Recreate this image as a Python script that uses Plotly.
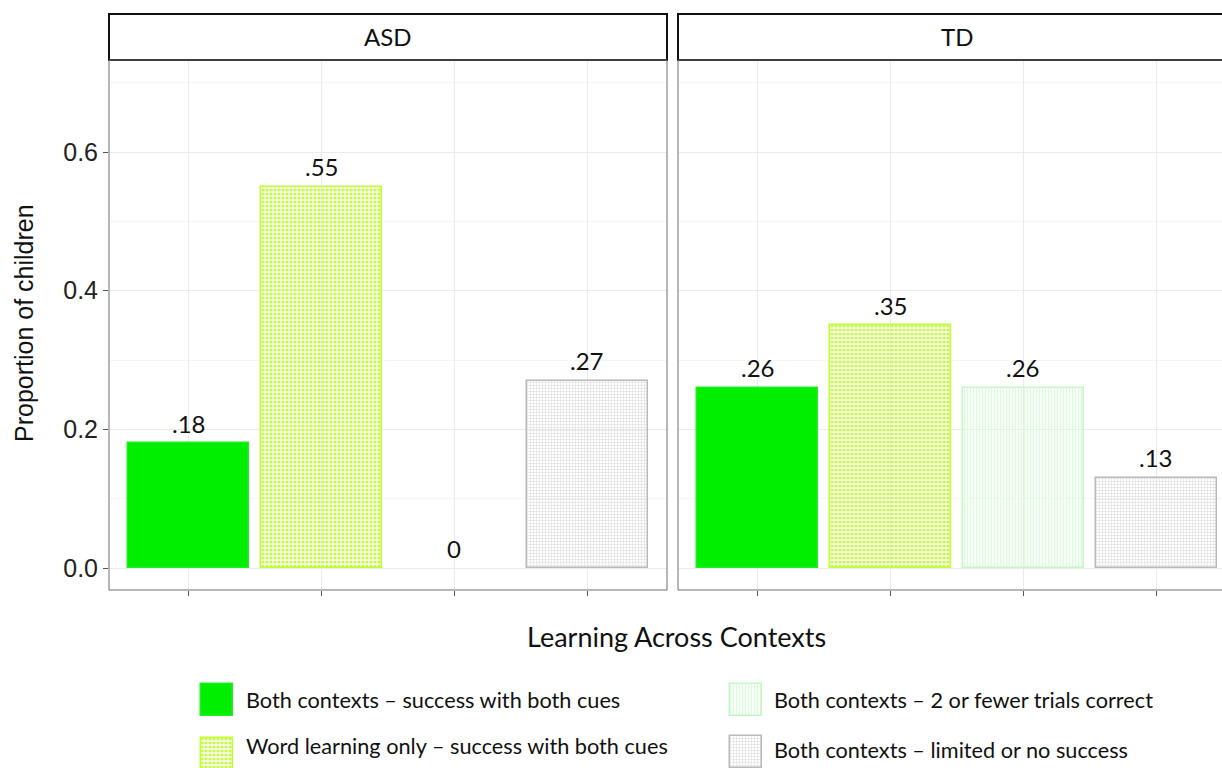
import plotly.graph_objects as go

# ---- data ----
categories = [
    "Both contexts – success with both cues",
    "Word learning only – success with both cues",
    "Both contexts – 2 or fewer trials correct",
    "Both contexts – limited or no success",
]
groups = ["ASD", "TD"]
asd_values = [0.18, 0.55, 0.0, 0.27]
td_values = [0.26, 0.35, 0.26, 0.13]
y_tick_values = [0.0, 0.2, 0.4, 0.6]
y_tick_labels = ["0.0", "0.2", "0.4", "0.6"]
y_minor_values = [0.1, 0.3, 0.5, 0.7]

# ---- styling per category ----
solid_colors = ["#00EE00", "#C4FF3C", "#D8FFD8", "#E0E0E0"]
pattern_shapes = ["", ".", "|", "+"]
pattern_fg = ["#00EE00", "#C2FC45", "#C3F7C3", "#B3B3B3"]
pattern_bg = ["#00EE00", "#FFFFFF", "#F2FFF2", "#DEDEDE"]
pattern_size = [4, 4, 3, 3]
pattern_solidity = [0.5, 0.5, 0.45, 0.4]
edge_colors = ["#20EE20", "#C0FF30", "#C6F5C6", "#BABABA"]

W, H = 1222, 768
PX_PER_UNIT = 558 / 4.2          # horizontal scale of a facet
LABEL_FONT = "Lato, 'Open Sans', sans-serif"
AXIS_FONT = "'Liberation Sans', Arial, sans-serif"

x_pos = list(range(1, len(categories) + 1))


def bar_marker(values=None):
    widths = 1.5 if values is None else [0 if v == 0 else 1.5 for v in values]
    return dict(
        color=solid_colors,
        line=dict(color=edge_colors, width=widths),
        pattern=dict(
            shape=pattern_shapes,
            fgcolor=pattern_fg,
            bgcolor=pattern_bg,
            size=pattern_size,
            solidity=pattern_solidity,
            fillmode="replace",
        ),
    )


def value_label(v):
    return "0" if v == 0 else f"{v:.2f}".lstrip("0")


fig = go.Figure()

for values, xa, ya in [(asd_values, "x", "y"), (td_values, "x2", "y2")]:
    fig.add_trace(go.Bar(
        x=x_pos, y=values, xaxis=xa, yaxis=ya, width=0.91,
        marker=bar_marker(values), showlegend=False, hoverinfo="skip",
    ))

annotations = []
for values, xa, ya in [(asd_values, "x", "y"), (td_values, "x2", "y2")]:
    for xi, v in zip(x_pos, values):
        annotations.append(dict(
            x=xi, y=v, xref=xa, yref=ya, text=value_label(v),
            showarrow=False, yanchor="middle", yshift=20,
            font=dict(family=LABEL_FONT, size=24, color="#111"),
        ))

# ---- legend keys, drawn on a helper axis laid over the bottom strip ----
key_x = [217, 217, 746, 746]
key_top = [684, 738, 684, 736]
key_size = 32
fig.add_trace(go.Bar(
    x=key_x, y=[key_size] * 4, base=key_top, width=key_size,
    xaxis="x3", yaxis="y3", marker=bar_marker(),
    showlegend=False, hoverinfo="skip",
))
key_text_x = [244, 244, 772, 772]
key_text_y = [700, 746, 700, 750]
for cat, tx, ty in zip(categories, key_text_x, key_text_y):
    annotations.append(dict(
        x=tx, y=ty, xref="x3", yref="y3", text=cat, showarrow=False,
        xanchor="left", yanchor="middle",
        font=dict(family=LABEL_FONT, size=21.7, color="#111"),
    ))

# ---- facet strips ----
strip_top, strip_bottom = 1 - 14 / H, 1 - 60 / H
td_extent = (1237 - 678) / (W - 678)
shapes = []
for xa, x1 in [("x", 1.0), ("x2", td_extent)]:
    shapes.append(dict(
        type="rect", xref=f"{xa} domain", yref="paper",
        x0=0, x1=x1, y0=strip_bottom, y1=strip_top,
        line=dict(color="#111", width=2), fillcolor="white", layer="above",
    ))
    shapes.append(dict(
        type="rect", xref=f"{xa} domain", yref=f"{'y' if xa == 'x' else 'y2'} domain",
        x0=0, x1=x1, y0=0, y1=1,
        line=dict(color="#6E6E6E", width=1), fillcolor="rgba(0,0,0,0)", layer="above",
    ))
for g, xa in zip(groups, ["x", "x2"]):
    annotations.append(dict(
        x=2.5, y=(strip_top + strip_bottom) / 2, xref=xa, yref="paper",
        text=g, showarrow=False, xanchor="center", yanchor="middle",
        font=dict(family=LABEL_FONT, size=24, color="#111"),
    ))

# ---- axis titles ----
annotations.append(dict(
    x=677 / W, y=1 - 636 / H, xref="paper", yref="paper",
    text="Learning Across Contexts", showarrow=False,
    xanchor="center", yanchor="middle",
    font=dict(family=LABEL_FONT, size=27, color="#111"),
))
annotations.append(dict(
    x=24 / W, y=1 - 323 / H, xref="paper", yref="paper",
    text="Proportion of children", showarrow=False, textangle=-90,
    xanchor="center", yanchor="middle",
    font=dict(family=AXIS_FONT, size=25, color="#111"),
))

y_bottom = -(590 - 568) / ((568 - 152) / 0.6)
y_top = (568 - 60) / ((568 - 152) / 0.6)

common_x = dict(
    tickvals=x_pos, ticktext=[""] * 4, showgrid=True, gridcolor="#EBEBEB",
    gridwidth=1, ticks="outside", ticklen=5, tickcolor="#555",
    zeroline=False, showline=False, fixedrange=True,
)

fig.update_layout(
    width=W, height=H, autosize=False,
    margin=dict(l=0, r=0, t=0, b=0),
    paper_bgcolor="white", plot_bgcolor="white",
    bargap=0, barmode="overlay",
    xaxis=dict(domain=[109 / W, 667 / W], range=[0.4, 4.6], anchor="y", **common_x),
    xaxis2=dict(domain=[678 / W, 1.0], range=[0.4, 0.4 + (W - 678) / PX_PER_UNIT],
                anchor="y2", **common_x),
    yaxis=dict(
        domain=[1 - 590 / H, 1 - 60 / H], range=[y_bottom, y_top], anchor="x",
        tickvals=y_tick_values, ticktext=y_tick_labels,
        ticks="outside", ticklen=5, tickcolor="#555",
        tickfont=dict(family=AXIS_FONT, size=25, color="#222"),
        showgrid=True, gridcolor="#EBEBEB", gridwidth=1, zeroline=False,
        minor=dict(tickvals=y_minor_values, showgrid=True, gridcolor="#F5F5F5",
                   gridwidth=1, ticks=""),
    ),
    yaxis2=dict(
        domain=[1 - 590 / H, 1 - 60 / H], range=[y_bottom, y_top], anchor="x2",
        matches="y", tickvals=y_tick_values, showticklabels=False, ticks="",
        showgrid=True, gridcolor="#EBEBEB", gridwidth=1, zeroline=False,
        minor=dict(tickvals=y_minor_values, showgrid=True, gridcolor="#F5F5F5",
                   gridwidth=1, ticks=""),
    ),
    xaxis3=dict(domain=[0, 1], range=[0, W], anchor="y3", visible=False, fixedrange=True),
    yaxis3=dict(domain=[0, 1 - 653 / H], range=[H, 653], anchor="x3", visible=False,
                fixedrange=True),
    shapes=shapes,
    annotations=annotations,
)

fig.write_html("out.html")
